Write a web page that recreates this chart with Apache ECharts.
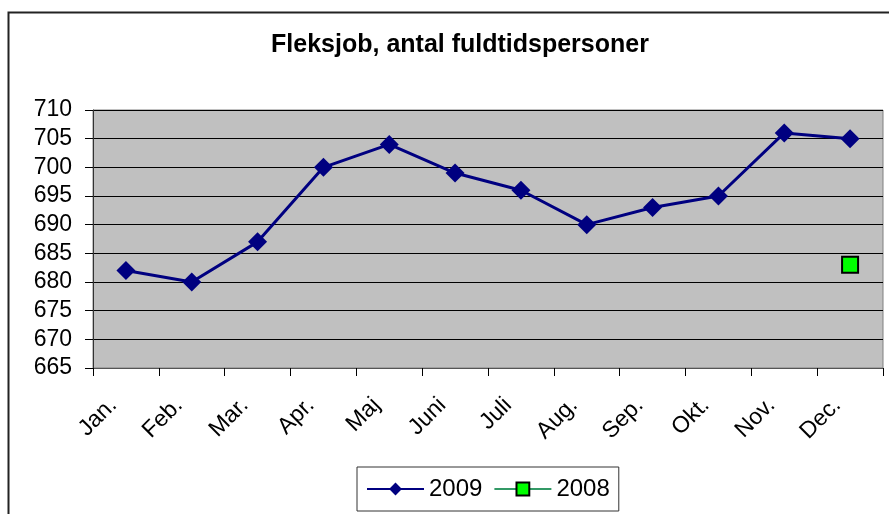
<!DOCTYPE html>
<html>
<head>
<meta charset="utf-8">
<style>
  html, body { margin: 0; padding: 0; background: #fff; }
  #chart { width: 889px; height: 514px; }
</style>
<script src="https://cdn.jsdelivr.net/npm/echarts@6/dist/echarts.min.js"></script>
</head>
<body>
<div id="chart"></div>
<script>
const months = ['Jan.', 'Feb.', 'Mar.', 'Apr.', 'Maj', 'Juni', 'Juli', 'Aug.', 'Sep.', 'Okt.', 'Nov.', 'Dec.']
const values2009 = [682, 680, 687, 700, 704, 699, 696, 690, 693, 695, 706, 705]
const values2008 = [null, null, null, null, null, null, null, null, null, null, null, 683]

const font = '"Liberation Sans", Arial, sans-serif'
const chart = echarts.init(document.getElementById('chart'))

chart.setOption({
  backgroundColor: '#fff',
  animation: false,
  title: {
    text: 'Fleksjob, antal fuldtidspersoner',
    left: 455,
    textAlign: 'center',
    top: 28,
    textStyle: { fontFamily: font, fontSize: 25, fontWeight: 'bold', color: '#000' },
  },
  graphic: [
    {
      type: 'rect',
      shape: { x: 8.5, y: 12.5, width: 900, height: 600 },
      style: { fill: 'none', stroke: '#222', lineWidth: 2 },
      silent: true,
    },
  ],
  legend: {
    left: 357,
    top: 467,
    orient: 'horizontal',
    padding: [10, 9, 10, 9],
    itemGap: 11,
    itemWidth: 57,
    itemHeight: 16,
    borderColor: '#333',
    borderWidth: 1,
    backgroundColor: '#fff',
    textStyle: { fontFamily: font, fontSize: 24, color: '#000' },
    data: ['2009', '2008'],
  },
  grid: { left: 93, right: 6, top: 110, bottom: 146, outerBoundsMode: 'none',
    show: true, backgroundColor: '#c0c0c0', borderColor: '#808080', borderWidth: 1 },
  xAxis: {
    type: 'category',
    data: months,
    boundaryGap: true,
    axisLine: { lineStyle: { color: '#555', width: 1 } },
    axisTick: { show: true, length: 8, lineStyle: { color: '#000' } },
    axisLabel: { rotate: 45, margin: 21, padding: [0, 18, 0, 0],
      fontFamily: font, fontSize: 23, color: '#000' },
    splitLine: { show: false },
  },
  yAxis: {
    type: 'value',
    min: 665,
    max: 710,
    interval: 5,
    axisLine: { show: true, lineStyle: { color: '#333', width: 1 } },
    axisTick: { show: true, length: 8, lineStyle: { color: '#000' } },
    axisLabel: { margin: 21, fontFamily: font, fontSize: 23, color: '#000' },
    splitLine: { show: true, lineStyle: { color: '#000', width: 1 } },
  },
  series: [
    {
      name: '2009',
      type: 'line',
      data: values2009,
      symbol: 'diamond',
      symbolSize: 19,
      itemStyle: { color: '#000080' },
      lineStyle: { color: '#000080', width: 3 },
      emphasis: { disabled: true },
    },
    {
      name: '2008',
      type: 'line',
      data: values2008,
      symbol: 'rect',
      symbolSize: 16,
      itemStyle: { color: '#00ff00', borderColor: '#000', borderWidth: 2 },
      lineStyle: { color: '#339966', width: 1.5 },
      emphasis: { disabled: true },
    },
  ],
})
</script>
</body>
</html>
